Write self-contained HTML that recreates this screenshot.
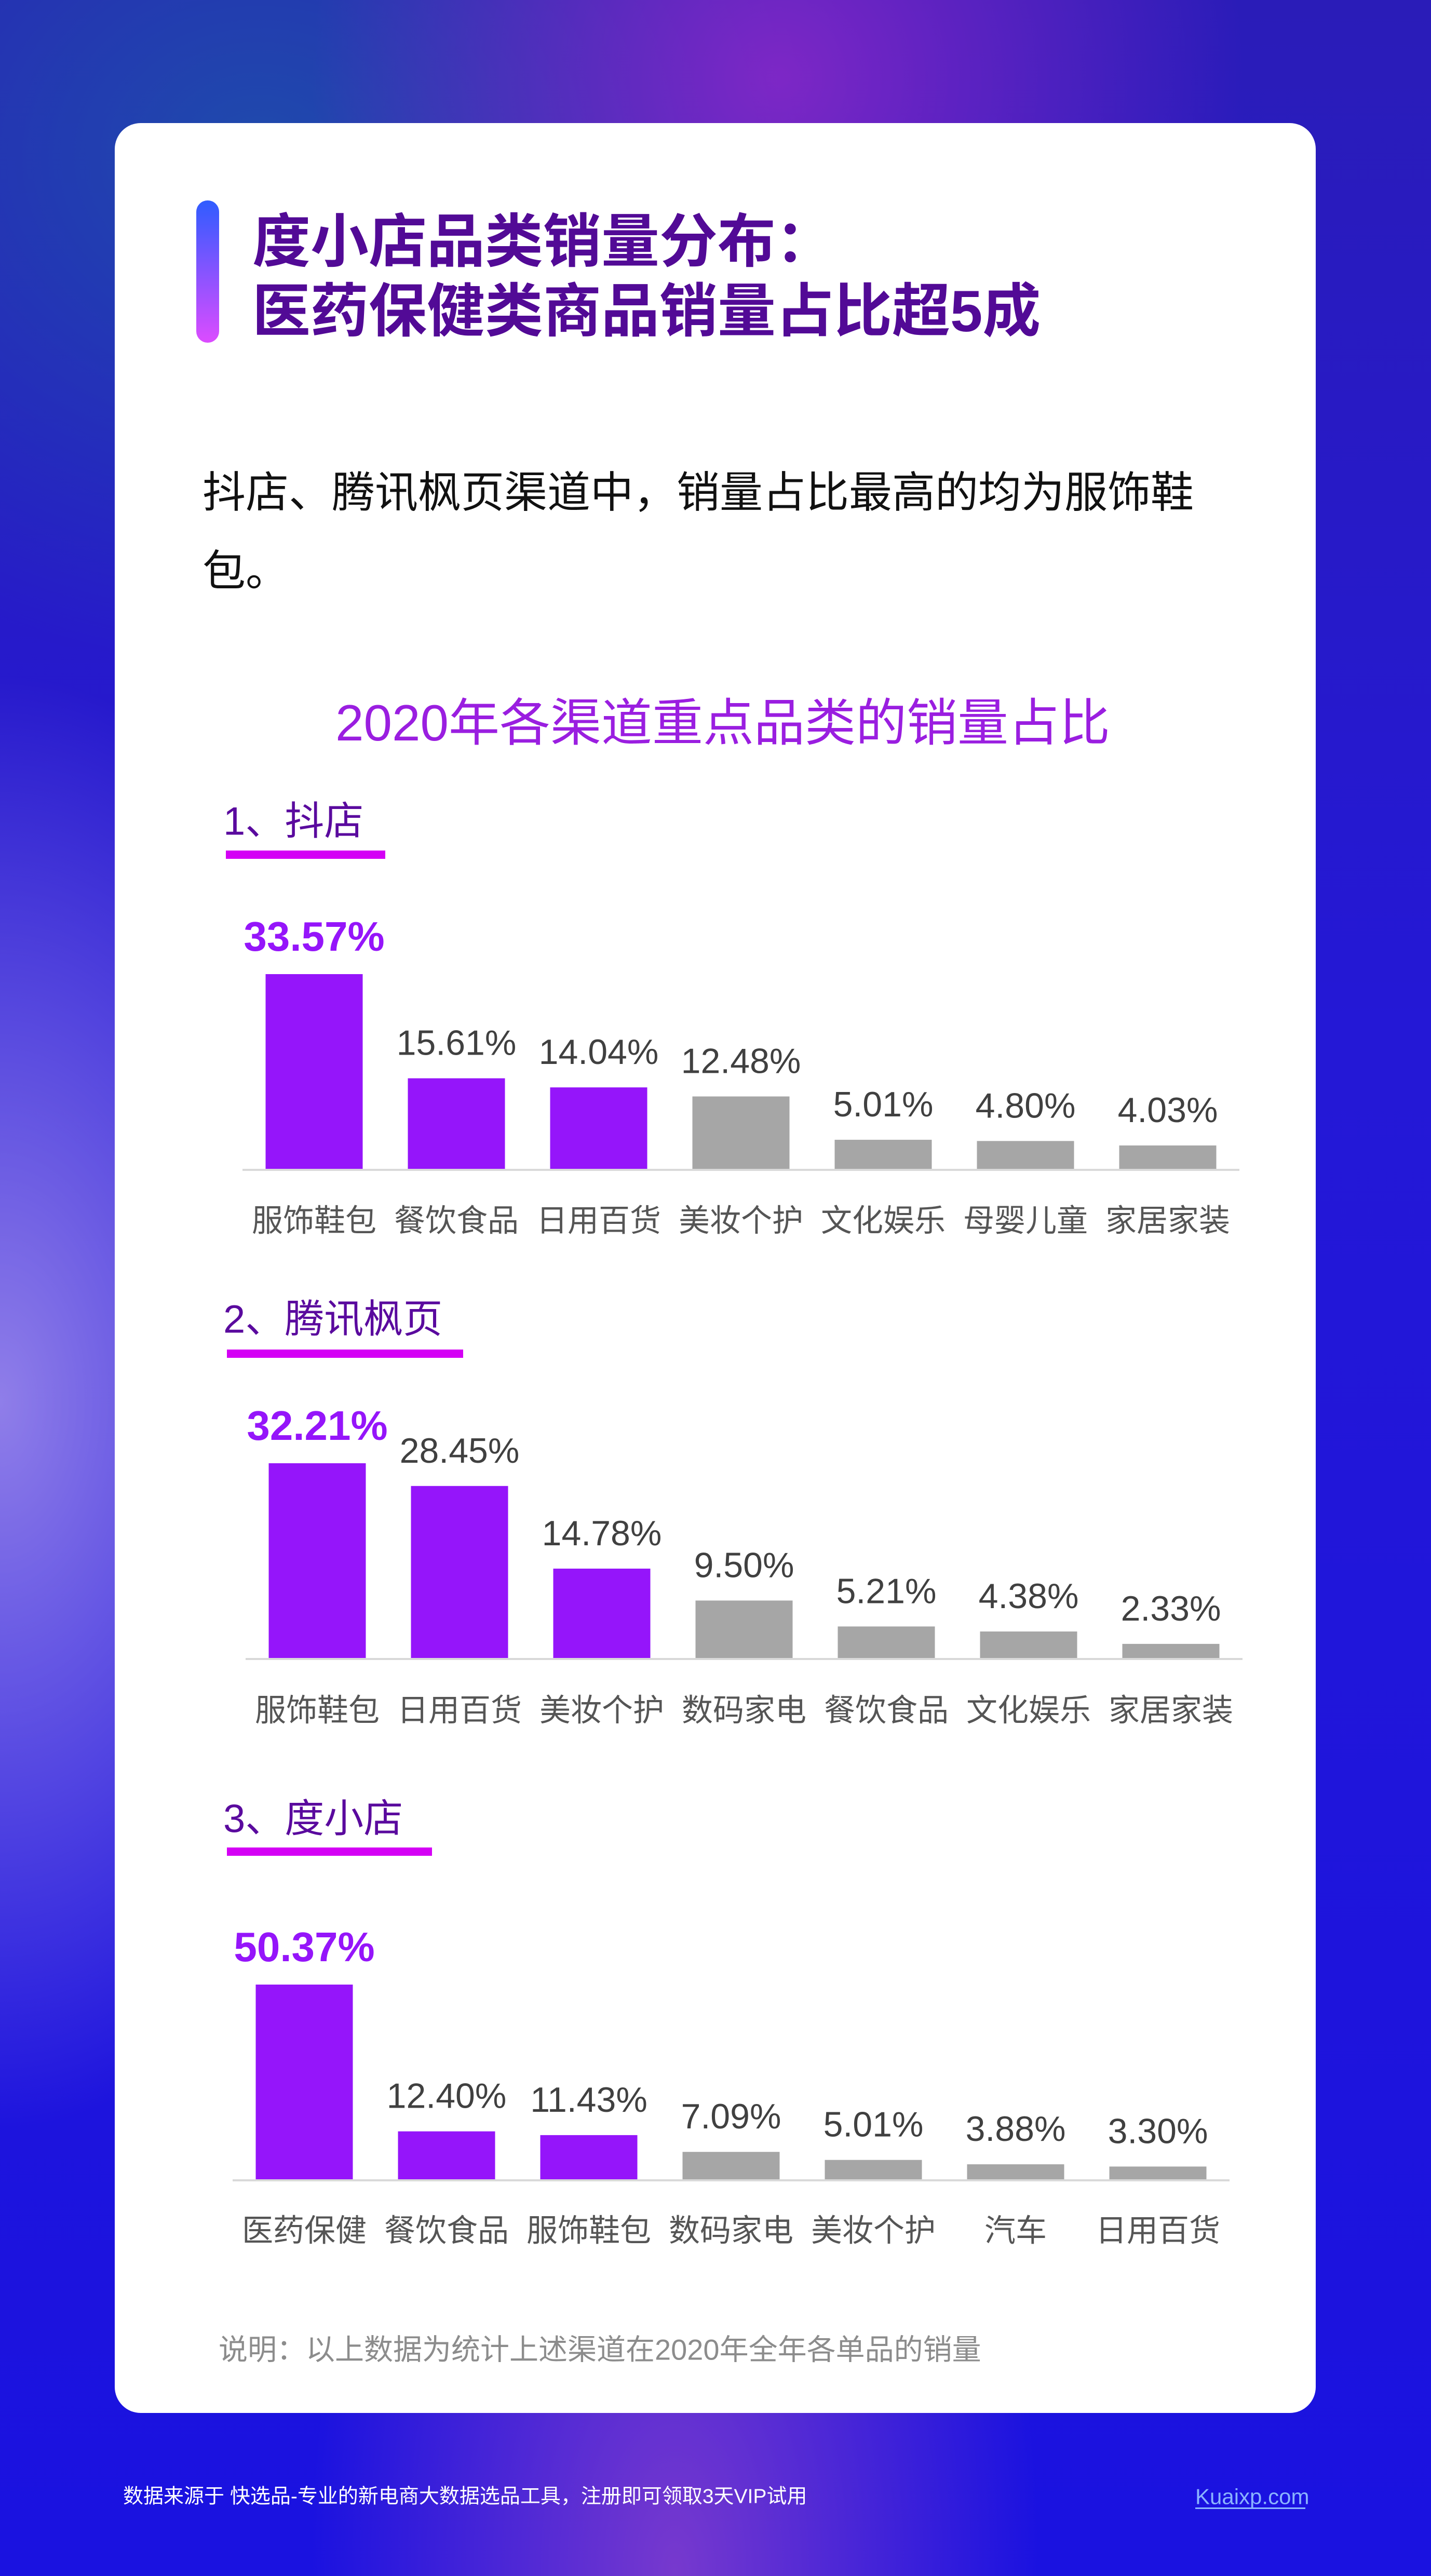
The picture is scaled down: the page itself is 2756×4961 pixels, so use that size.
<!DOCTYPE html>
<html><head><meta charset="utf-8">
<style>
html,body{margin:0;padding:0;}
body{width:2756px;height:4961px;position:relative;overflow:hidden;font-family:"Liberation Sans","Noto Sans CJK SC",sans-serif;
background:
radial-gradient(ellipse 700px 1400px at 1300px 4950px, rgba(150,70,200,0.75), rgba(150,70,200,0) 100%),
radial-gradient(ellipse 800px 1400px at 0px 2700px, rgba(190,170,240,0.7), rgba(190,170,240,0) 100%),
radial-gradient(ellipse 900px 900px at 1500px 150px, rgba(140,40,200,0.85), rgba(140,40,200,0) 100%),
radial-gradient(ellipse 1200px 1000px at 500px 300px, rgba(30,80,170,0.9), rgba(30,80,170,0) 100%),
linear-gradient(180deg,#2a1cb8 0%,#2418d6 40%,#1a12e0 100%);}
.card{position:absolute;left:221px;top:237px;width:2313px;height:4410px;background:#fff;border-radius:50px;}
svg{position:absolute;left:0;top:0;}
</style></head>
<body>
<div class="card"></div>
<svg width="2756" height="4961" viewBox="0 0 2756 4961">
<defs>
<linearGradient id="acc" x1="0" y1="0" x2="0" y2="1"><stop offset="0" stop-color="#2f5cff"/><stop offset="1" stop-color="#dc4cff"/></linearGradient>
</defs>
<rect x="378" y="386" width="44" height="274" rx="22" fill="url(#acc)"/>
<g font-family="Liberation Sans, Noto Sans CJK SC, sans-serif" font-weight="bold" fill="#520a96" font-size="112">
<text x="486" y="504">度小店品类销量分布：</text>
<text x="486" y="638">医药保健类商品销量占比超5成</text>
</g>
<g font-size="83" fill="#111">
<text x="390" y="977">抖店、腾讯枫页渠道中，销量占比最高的均为服饰鞋</text>
<text x="390" y="1128">包。</text>
</g>
<text x="1392" y="1392" font-size="98" fill="#9a1ee0" text-anchor="middle" dominant-baseline="central">2020年各渠道重点品类的销量占比</text>

<g fill="#5a0a9e" font-size="76">
<text x="430" y="1582" dominant-baseline="central">1、抖店</text>
<text x="430" y="2541" dominant-baseline="central">2、腾讯枫页</text>
<text x="430" y="3503" dominant-baseline="central">3、度小店</text>
</g>
<rect x="435" y="1638" width="307" height="16" fill="#d400f5"/>
<rect x="437" y="2599" width="455" height="16" fill="#d400f5"/>
<rect x="437" y="3558" width="395" height="16" fill="#d400f5"/>

<g id="charts"></g>

<text x="421" y="4525" font-size="56" fill="#8c8c8c" dominant-baseline="central">说明：以上数据为统计上述渠道在2020年全年各单品的销量</text>
<text x="237" y="4808" font-size="39" fill="#fff" dominant-baseline="central">数据来源于 快选品-专业的新电商大数据选品工具，注册即可领取3天VIP试用</text>
<text x="2302" y="4808" font-size="42" fill="#8ab4ff" dominant-baseline="central">Kuaixp.com</text>
<rect x="2302" y="4829" width="212" height="3" fill="#8ab4ff"/>
</svg>
<script>
const cats1 = ["服饰鞋包","餐饮食品","日用百货","美妆个护","文化娱乐","母婴儿童","家居家装"];
const vals1 = [33.57,15.61,14.04,12.48,5.01,4.80,4.03];
const labels1 = ["33.57%","15.61%","14.04%","12.48%","5.01%","4.80%","4.03%"];
const cats2 = ["服饰鞋包","日用百货","美妆个护","数码家电","餐饮食品","文化娱乐","家居家装"];
const vals2 = [32.21,28.45,14.78,9.50,5.21,4.38,2.33];
const labels2 = ["32.21%","28.45%","14.78%","9.50%","5.21%","4.38%","2.33%"];
const cats3 = ["医药保健","餐饮食品","服饰鞋包","数码家电","美妆个护","汽车","日用百货"];
const vals3 = [50.37,12.40,11.43,7.09,5.01,3.88,3.30];
const labels3 = ["50.37%","12.40%","11.43%","7.09%","5.01%","3.88%","3.30%"];
const highlightCount = 3;

const NS = "http://www.w3.org/2000/svg";
const root = document.getElementById("charts");
function mk(tag, attrs, parent){const e=document.createElementNS(NS,tag);for(const k in attrs)e.setAttribute(k,attrs[k]);parent.appendChild(e);return e;}
function drawChart(idx, cats, vals, labels, x0, baseY, labelY){
  const g = mk("g",{},root);
  
  
  const step = 274, bw = 187, maxH = 375;
  const maxV = Math.max.apply(null, vals);
  const xScale = i => x0 + i*step;
  const yScale = v => v/maxV*maxH;
  const ax = mk("rect",{x:x0-138,y:baseY,width:step*6+276,height:4,fill:"#d9d9d9"},g);
  
  
  vals.forEach((v,i)=>{
    const cx = xScale(i), h = yScale(v);
    const hl = i < highlightCount;
    const r = mk("rect",{x:cx-bw/2,y:baseY-h,width:bw,height:h,fill:hl?"#9515fa":"#a6a6a6"},g);
    
    
    const first = i===0;
    const t = mk("text",{x:cx,y:baseY-h-45,"text-anchor":"middle","font-size":first?80:68,"font-weight":first?"bold":"normal",fill:first?"#9515fa":"#404040"},g);
    t.textContent = labels[i];
    
    
    const c = mk("text",{x:cx,y:labelY,"text-anchor":"middle","dominant-baseline":"central","font-size":60,fill:"#555"},g);
    c.textContent = cats[i];
    
    
  });
}
drawChart(1, cats1, vals1, labels1, 605, 2251, 2351);
drawChart(2, cats2, vals2, labels2, 611, 3193, 3294);
drawChart(3, cats3, vals3, labels3, 586, 4197, 4296);
</script>
</body></html>
